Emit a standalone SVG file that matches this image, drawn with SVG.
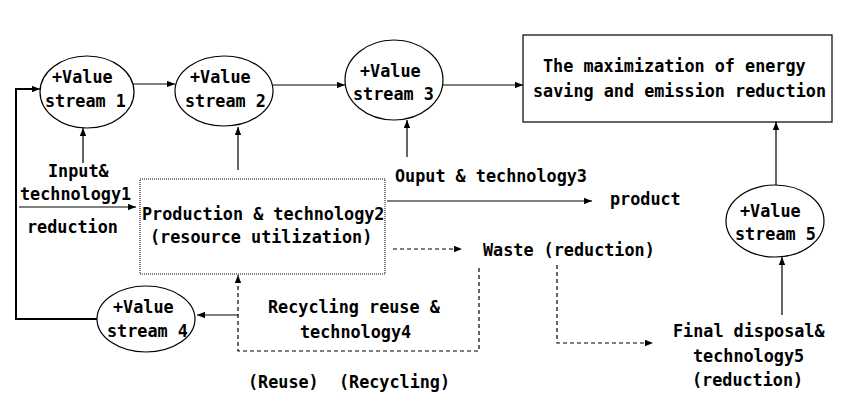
<svg xmlns="http://www.w3.org/2000/svg" width="848" height="407" viewBox="0 0 848 407">
<style>
text{font-family:"DejaVu Sans Mono","Liberation Mono",monospace;font-size:16.8px;font-weight:bold;fill:#000}
.n{fill:#fff;stroke:#000;stroke-width:1.2}
.l{fill:none;stroke:#000;stroke-width:1.2}
.g{fill:none;stroke:#555;stroke-width:1.8}
.t{fill:none;stroke:#000;stroke-width:2}
.d{fill:none;stroke:#000;stroke-width:1.2;stroke-dasharray:4,3}
</style>
<defs>
<marker id="a" viewBox="0 0 10 8" refX="10" refY="4" markerWidth="8" markerHeight="6.4" markerUnits="userSpaceOnUse" orient="auto"><path d="M0,0L10,4L0,8z" fill="#000"/></marker>
</defs>
<rect width="848" height="407" fill="#fff"/>
<g id="connectors">
<polyline class="t" points="97,319 16,319 16,89 32,89"/>
<line class="l" x1="16" y1="89" x2="40" y2="89" marker-end="url(#a)"/>
<line class="l" x1="19" y1="207" x2="136" y2="207" marker-end="url(#a)"/>
<line class="l" x1="133" y1="84" x2="175" y2="84" marker-end="url(#a)"/>
<line class="l" x1="273" y1="85" x2="345" y2="85" marker-end="url(#a)"/>
<line class="l" x1="443" y1="85" x2="523" y2="85" marker-end="url(#a)"/>
<line class="g" x1="83" y1="163" x2="83" y2="128" marker-end="url(#a)"/>
<line class="g" x1="238" y1="170" x2="238" y2="127" marker-end="url(#a)"/>
<line class="g" x1="407" y1="157" x2="407" y2="120" marker-end="url(#a)"/>
<line class="g" x1="776" y1="185" x2="776" y2="122" marker-end="url(#a)"/>
<line class="g" x1="782" y1="315" x2="782" y2="257" marker-end="url(#a)"/>
<line class="l" x1="387" y1="201" x2="592" y2="201" marker-end="url(#a)"/>
<line class="d" x1="393" y1="249" x2="462" y2="249" marker-end="url(#a)"/>
<polyline class="d" points="557,265 557,343 653,343" marker-end="url(#a)"/>
<polyline class="d" points="479,268 479,351 238,351 238,275" marker-end="url(#a)"/>
<line class="l" x1="238" y1="315" x2="197" y2="315" marker-end="url(#a)"/>
</g>
<g id="vs1"><ellipse class="n" cx="87" cy="92" rx="47" ry="36"/><text x="52" y="83">+Value</text><text x="45" y="107">stream 1</text></g>
<g id="vs2"><ellipse class="n" cx="224" cy="91" rx="49" ry="35"/><text x="190" y="83">+Value</text><text x="185" y="107">stream 2</text></g>
<g id="vs3"><ellipse class="n" cx="394" cy="80" rx="49" ry="40"/><text x="360" y="77">+Value</text><text x="353" y="100">stream 3</text></g>
<g id="vs4"><ellipse class="n" cx="146" cy="319" rx="49" ry="33"/><text x="113" y="313">+Value</text><text x="107" y="337">stream 4</text></g>
<g id="vs5"><ellipse class="n" cx="775" cy="221" rx="49" ry="36"/><text x="740" y="217">+Value</text><text x="735" y="240">stream 5</text></g>
<g id="goal"><rect class="n" x="523" y="35" width="309" height="87"/><text x="543" y="72">The maximization of energy</text><text x="533" y="97">saving and emission reduction</text></g>
<g id="production"><rect x="140" y="179" width="245" height="95" fill="#fff" stroke="#000" stroke-width="1" stroke-dasharray="1,1"/><text x="142" y="220">Production &amp; technology2</text><text x="150" y="243">(resource utilization)</text></g>
<g id="input"><text x="48" y="177">Input&amp;</text><text x="20" y="200">technology1</text><text x="27" y="233">reduction</text></g>
<g id="output"><text x="395" y="182">Ouput &amp; technology3</text></g>
<g id="product"><text x="610" y="205">product</text></g>
<g id="waste"><text x="483" y="256">Waste (reduction)</text></g>
<g id="recycling"><text x="268" y="313">Recycling reuse &amp;</text><text x="300" y="338">technology4</text><text x="248" y="388">(Reuse)&#160;&#160;(Recycling)</text></g>
<g id="final"><text x="673" y="337">Final disposal&amp;</text><text x="693" y="362">technology5</text><text x="692" y="386">(reduction)</text></g>
</svg>
